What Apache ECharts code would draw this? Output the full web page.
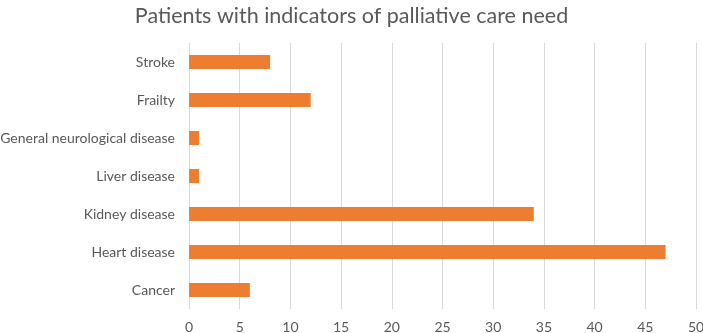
<!DOCTYPE html>
<html>
<head>
<meta charset="utf-8">
<script src="https://cdn.jsdelivr.net/npm/echarts@6/dist/echarts.min.js"></script>
<style>
  html, body { margin: 0; padding: 0; background: #fff; }
  #chart { width: 703px; height: 333px; }
</style>
</head>
<body>
<div id="chart"></div>
<script>
// categories bottom to top, as the axis draws them
const categories = ['Cancer', 'Heart disease', 'Kidney disease', 'Liver disease', 'General neurological disease', 'Frailty', 'Stroke']
const patients = [6, 47, 34, 1, 1, 12, 8]
const xTicks = { min: 0, max: 50, interval: 5 }

const chart = echarts.init(document.getElementById('chart'))
chart.setOption({
  animation: false,
  title: {
    text: 'Patients with indicators of palliative care need',
    left: 'center',
    top: 0,
    textStyle: {
      fontFamily: 'Lato',
      fontSize: 21.5,
      fontWeight: 'normal',
      color: '#595959'
    }
  },
  grid: {
    top: 43,
    left: 189,
    right: 7,
    bottom: 24,
    outerBoundsMode: 'none'
  },
  xAxis: {
    type: 'value',
    min: xTicks.min,
    max: xTicks.max,
    interval: xTicks.interval,
    axisLine: { show: false },
    axisTick: { show: false },
    axisLabel: {
      color: '#595959',
      fontFamily: 'Lato',
      fontSize: 14,
      margin: 11
    },
    splitLine: { lineStyle: { color: '#d9d9d9', width: 1 } }
  },
  yAxis: {
    type: 'category',
    data: categories,
    axisLine: { show: false },
    axisTick: { show: false },
    axisLabel: {
      color: '#595959',
      fontFamily: 'Lato',
      fontSize: 14,
      margin: 14
    }
  },
  series: [{
    type: 'bar',
    data: patients,
    barWidth: 14,
    itemStyle: { color: '#ed7d31' }
  }]
})
</script>
</body>
</html>
